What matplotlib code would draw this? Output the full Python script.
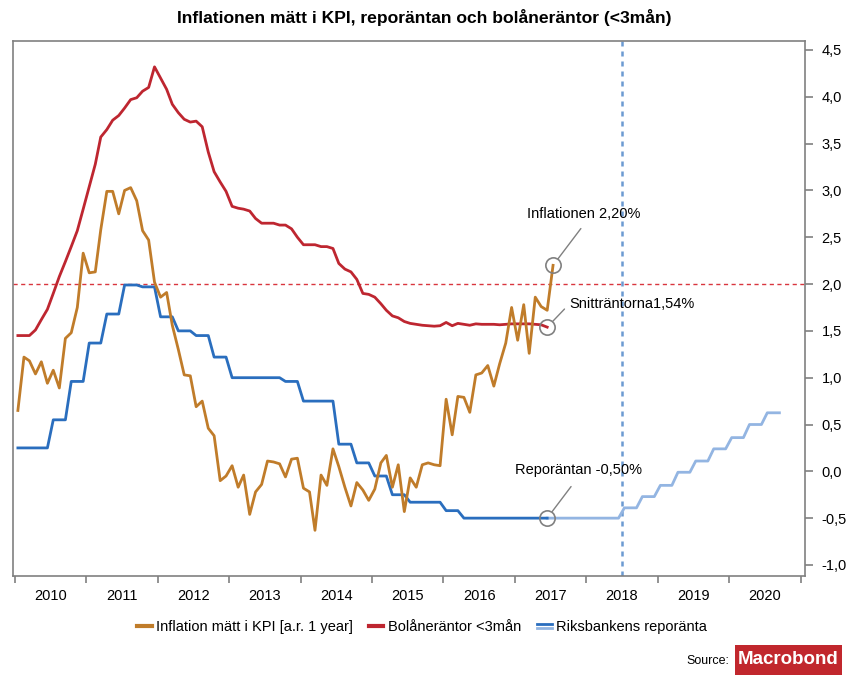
import numpy as np
import pandas as pd
import matplotlib
matplotlib.use("Agg")
import matplotlib.pyplot as plt
import matplotlib.dates as mdates
from matplotlib.lines import Line2D
from matplotlib.patches import Rectangle
from matplotlib.legend_handler import HandlerBase
from matplotlib.ticker import FuncFormatter, FixedLocator


# Inflation (KPI, yearly rate), monthly from Jan 2010 to Jul 2017
inflation = [
    0.65, 1.22, 1.18, 1.04, 1.17, 0.94, 1.08, 0.89, 1.42, 1.48, 1.75, 2.33,
    2.12, 2.13, 2.58, 2.99, 2.99, 2.75, 3.00, 3.03, 2.89, 2.57, 2.47, 2.02,
    1.86, 1.91, 1.56, 1.30, 1.03, 1.02, 0.69, 0.75, 0.46, 0.38, -0.10, -0.05,
    0.06, -0.17, -0.04, -0.46, -0.22, -0.14, 0.11, 0.10, 0.08, -0.06, 0.13, 0.14,
    -0.18, -0.22, -0.63, -0.04, -0.15, 0.24, 0.05, -0.17, -0.37, -0.12, -0.20, -0.31,
    -0.19, 0.09, 0.17, -0.17, 0.07, -0.43, -0.07, -0.17, 0.07, 0.09, 0.07, 0.06,
    0.77, 0.39, 0.80, 0.79, 0.63, 1.03, 1.05, 1.13, 0.91, 1.15, 1.37, 1.75,
    1.40, 1.78, 1.26, 1.86, 1.76, 1.72, 2.20,
]

# Mortgage rates < 3 months, Jan 2010 to Jun 2017
mortgage = [
    1.45, 1.45, 1.45, 1.51, 1.62, 1.73, 1.90, 2.08, 2.24, 2.40, 2.57, 2.80,
    3.04, 3.28, 3.57, 3.65, 3.75, 3.80, 3.88, 3.97, 3.99, 4.06, 4.10, 4.32,
    4.20, 4.08, 3.92, 3.83, 3.76, 3.73, 3.74, 3.68, 3.41, 3.20, 3.09, 2.99,
    2.83, 2.81, 2.80, 2.78, 2.70, 2.65, 2.65, 2.65, 2.63, 2.63, 2.59, 2.50,
    2.42, 2.42, 2.42, 2.40, 2.40, 2.38, 2.22, 2.16, 2.13, 2.05, 1.90, 1.89,
    1.86, 1.79, 1.72, 1.66, 1.64, 1.60, 1.58, 1.57, 1.56, 1.555, 1.55, 1.555,
    1.59, 1.555, 1.58, 1.57, 1.56, 1.575, 1.57, 1.57, 1.57, 1.565, 1.57, 1.575,
    1.575, 1.575, 1.575, 1.57, 1.565, 1.54,
]

# Riksbank repo rate, Jan 2010 to Jun 2017
repo = [
    0.25, 0.25, 0.25, 0.25, 0.25, 0.25, 0.55, 0.55, 0.55, 0.96, 0.96, 0.96,
    1.37, 1.37, 1.37, 1.68, 1.68, 1.68, 1.99, 1.99, 1.99, 1.97, 1.97, 1.97,
    1.65, 1.65, 1.65, 1.50, 1.50, 1.50, 1.45, 1.45, 1.45, 1.22, 1.22, 1.22,
    1.00, 1.00, 1.00, 1.00, 1.00, 1.00, 1.00, 1.00, 1.00, 0.96, 0.96, 0.96,
    0.75, 0.75, 0.75, 0.75, 0.75, 0.75, 0.29, 0.29, 0.29, 0.09, 0.09, 0.09,
    -0.05, -0.05, -0.05, -0.25, -0.25, -0.25, -0.33, -0.33, -0.33, -0.33, -0.33, -0.33,
    -0.42, -0.42, -0.42, -0.50, -0.50, -0.50, -0.50, -0.50, -0.50, -0.50, -0.50, -0.50,
    -0.50, -0.50, -0.50, -0.50, -0.50, -0.50,
]

# Repo rate forecast, Jun 2017 to Sep 2020
repo_forecast = [
    -0.50, -0.50, -0.50, -0.50, -0.50, -0.50, -0.50, -0.50, -0.50, -0.50,
    -0.50, -0.50, -0.50, -0.39, -0.39, -0.39, -0.27, -0.27, -0.27, -0.15,
    -0.15, -0.15, -0.01, -0.01, -0.01, 0.11, 0.11, 0.11, 0.24, 0.24,
    0.24, 0.36, 0.36, 0.36, 0.50, 0.50, 0.50, 0.625, 0.625, 0.625,
]

years = list(range(2010, 2021))
y_ticks = [4.5, 4.0, 3.5, 3.0, 2.5, 2.0, 1.5, 1.0, 0.5, 0.0, -0.5, -1.0]

labels = {
    "infl": "Inflation mätt i KPI [a.r. 1 year]",
    "mort": "Bolåneräntor <3mån",
    "repo": "Riksbankens reporänta",
}

C_ORANGE = "#C07C2A"
C_RED = "#BE2630"
C_BLUE = "#2A6EBE"
C_LIGHT = "#93B5E2"
C_GRAY = "#808080"

plt.rcParams["font.family"] = ["Liberation Sans", "DejaVu Sans"]


# Monthly dates, plotted in the middle of each month
def months(start, n):
    return pd.date_range(start, periods=n, freq="MS") + pd.Timedelta(days=14)


t_infl = months("2010-01-01", len(inflation))
t_mort = months("2010-01-01", len(mortgage))
t_repo = months("2010-01-01", len(repo))
t_fc = months("2017-06-01", len(repo_forecast))


fig = plt.figure(figsize=(8.49, 6.8), dpi=100)
ax = fig.add_axes([13 / 849, 1 - 576 / 680, 792 / 849, 535 / 680])

ax.axhline(2.0, color="#D9363E", lw=1, ls=(0, (3, 2.5)), zorder=1)
ax.axvline(pd.Timestamp("2018-07-01"), color="#6C9BD2", lw=1.8,
           ls=(0, (2, 2)), zorder=1)

ax.plot(t_fc, repo_forecast, color=C_LIGHT, lw=2, zorder=2)
ax.plot(t_repo, repo, color=C_BLUE, lw=2, zorder=3)
ax.plot(t_mort, mortgage, color=C_RED, lw=2, zorder=3)
ax.plot(t_infl, inflation, color=C_ORANGE, lw=2, zorder=4)

# Circle markers for the latest values
ax.plot(t_infl[-1], inflation[-1], "o", ms=11, mfc="none", mec=C_GRAY,
        mew=1.2, zorder=5)
ax.plot(t_mort[-1], mortgage[-1], "o", ms=11, mfc="none", mec=C_GRAY,
        mew=1.2, zorder=5)
ax.plot(t_repo[-1], repo[-1], "o", ms=11, mfc="none", mec=C_GRAY,
        mew=1.2, zorder=5)

arrow = dict(arrowstyle="-", color=C_GRAY, lw=1, shrinkA=2, shrinkB=6)
ax.annotate("Inflationen 2,20%", (t_infl[-1], inflation[-1]),
            xytext=(31, 51), textcoords="offset pixels", ha="center",
            va="center", fontsize=10.5,
            arrowprops=dict(arrow, relpos=(0.52, 0), shrinkA=4))
ax.annotate("Snitträntorna1,54%", (t_mort[-1], mortgage[-1]),
            xytext=(22, 23), textcoords="offset pixels", ha="left",
            va="center", fontsize=10.5,
            arrowprops=dict(arrow, relpos=(0, 0.5)))
ax.annotate("Reporäntan -0,50%", (t_repo[-1], repo[-1]),
            xytext=(31, 48), textcoords="offset pixels", ha="center",
            va="center", fontsize=10.5,
            arrowprops=dict(arrow, relpos=(0.5, 0), shrinkA=6))

# Axes limits and ticks
ax.set_xlim(pd.Timestamp("2009-12-21"), pd.Timestamp("2021-01-24"))
ax.set_ylim(-1.118, 4.596)

ax.xaxis.set_major_locator(mdates.YearLocator())
ax.xaxis.set_major_formatter(plt.NullFormatter())
ax.xaxis.set_minor_locator(FixedLocator(
    [mdates.date2num(pd.Timestamp(f"{y}-07-02")) for y in years]))
ax.xaxis.set_minor_formatter(FuncFormatter(
    lambda v, p: str(mdates.num2date(v).year)))
ax.tick_params(axis="x", which="major", length=5, color=C_GRAY, width=1.2)
ax.tick_params(axis="x", which="minor", length=0, pad=9, labelsize=10.5)

ax.yaxis.tick_right()
ax.set_yticks(y_ticks)
ax.yaxis.set_major_formatter(FuncFormatter(
    lambda v, p: f"{v:.1f}".replace(".", ",")))
ax.tick_params(axis="y", length=6, color=C_GRAY, width=1.2, pad=6,
               labelsize=10.5)

for s in ax.spines.values():
    s.set_color(C_GRAY)
    s.set_linewidth(1.2)

fig.suptitle("Inflationen mätt i KPI, reporäntan och bolåneräntor (<3mån)",
             y=1 - 17 / 680, va="center", fontsize=12.6, fontweight="bold")


# Legend handle with the two shades of blue stacked
class TwoLines(HandlerBase):
    def create_artists(self, legend, orig_handle, xdescent, ydescent,
                       width, height, fontsize, trans):
        y = height / 2 - ydescent
        top = Line2D([-xdescent, width - xdescent], [y + 1.6, y + 1.6],
                     color=C_BLUE, lw=2, transform=trans)
        bottom = Line2D([-xdescent, width - xdescent], [y - 1.6, y - 1.6],
                        color=C_LIGHT, lw=2, transform=trans)
        return [top, bottom]


h_infl = Line2D([], [], color=C_ORANGE, lw=3)
h_mort = Line2D([], [], color=C_RED, lw=3)
h_repo = Line2D([], [], color=C_BLUE, lw=2)
fig.legend([h_infl, h_mort, h_repo],
           [labels["infl"], labels["mort"], labels["repo"]],
           handler_map={h_repo: TwoLines()},
           loc="center", bbox_to_anchor=(0.497, 1 - 627 / 680), ncol=3,
           frameon=False, handlelength=1.0, handletextpad=0.3,
           columnspacing=1.1, prop=dict(size=10.5))

# Source and logo
fig.text(729 / 849, 1 - 661 / 680, "Source:", ha="right", va="center",
         fontsize=9)
fig.patches.append(Rectangle((735 / 849, 1 - 675 / 680), 107 / 849, 30 / 680,
                             transform=fig.transFigure, fc="#C1272D",
                             ec="none"))
fig.text(788.5 / 849, 1 - 660 / 680, "Macrobond", ha="center", va="center",
         fontsize=13.5, fontweight="bold", color="white")

fig.savefig("out.png", dpi=100)
